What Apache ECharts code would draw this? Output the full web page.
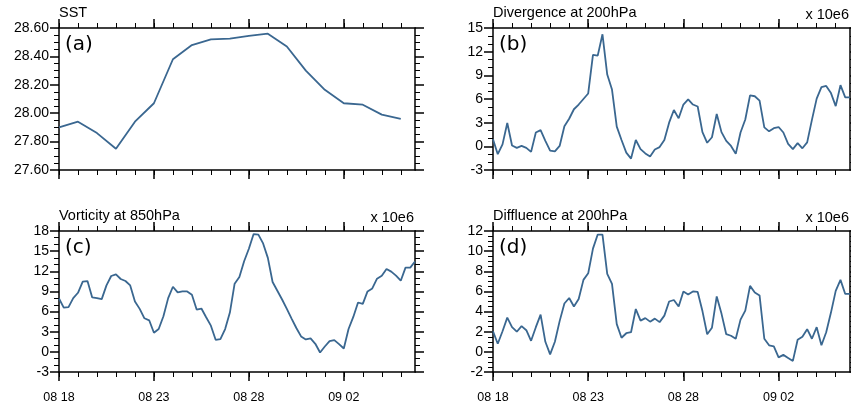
<!DOCTYPE html>
<html>
<head>
<meta charset="utf-8">
<script src="https://cdn.jsdelivr.net/npm/echarts@6/dist/echarts.min.js"></script>
<style>
html,body{margin:0;padding:0;background:#fff;}
#chart{width:851px;height:404px;}
</style>
</head>
<body>
<div id="chart"></div>
<script>
// ---- data ----
// x positions are in days since 08 18 00UTC
const xTickDays = [0, 5, 10, 15];
const xTickLabels = ['08 18', '08 23', '08 28', '09 02'];
const dailyStep = 1;      // SST is daily
const sixHourStep = 0.25; // others are 6-hourly

const panelTitles = ['SST', 'Divergence at 200hPa', 'Vorticity at 850hPa', 'Diffluence at 200hPa'];
const panelTags = ['(a)', '(b)', '(c)', '(d)'];
const scaleNote = 'x 10e6';

const sst = [27.90, 27.94, 27.86, 27.75, 27.94, 28.07, 28.38, 28.48, 28.52, 28.525,
  28.545, 28.56, 28.47, 28.30, 28.165, 28.07, 28.06, 27.99, 27.96];

const divergence = [0.9, -1.0, 0.25, 2.95, 0.1, -0.2, 0.05, -0.2, -0.7, 1.75,
  2.05, 0.7, -0.55, -0.65, 0.05, 2.55, 3.5, 4.7, 5.3, 6.0,
  6.7, 11.6, 11.5, 14.2, 9.1, 7.2, 2.5, 0.8, -0.8, -1.55,
  0.8, -0.35, -0.9, -1.3, -0.4, -0.1, 0.8, 3.0, 4.6, 3.55,
  5.3, 5.95, 5.3, 5.05, 1.8, 0.45, 1.15, 4.1, 1.8, 0.7,
  0.05, -0.95, 1.75, 3.4, 6.45, 6.35, 5.8, 2.4, 1.9, 2.3,
  2.45, 1.75, 0.3, -0.35, 0.4, -0.25, 0.5, 3.35, 6.05, 7.5,
  7.65, 6.75, 5.1, 7.75, 6.2, 6.2];

const vorticity = [7.95, 6.6, 6.65, 8.0, 8.8, 10.45, 10.55, 8.1, 8.0, 7.85,
  9.9, 11.3, 11.55, 10.85, 10.55, 9.9, 7.5, 6.4, 5.0, 4.7,
  2.85, 3.4, 5.3, 8.0, 9.7, 8.85, 9.0, 9.0, 8.5, 6.3,
  6.45, 5.15, 3.9, 1.8, 1.9, 3.4, 5.85, 10.15, 11.15, 13.5,
  15.35, 17.55, 17.45, 16.15, 14.0, 10.4, 9.1, 7.8, 6.4, 4.95,
  3.55, 2.3, 1.85, 2.0, 1.2, -0.1, 0.8, 1.6, 1.75, 1.15,
  0.5, 3.4, 5.2, 7.35, 7.15, 9.0, 9.45, 10.9, 11.35, 12.35,
  11.95, 11.35, 10.6, 12.55, 12.55, 13.45];

const diffluence = [2.05, 0.8, 2.05, 3.4, 2.45, 2.0, 2.55, 2.15, 1.1, 2.45,
  3.7, 1.0, -0.25, 1.0, 3.05, 4.8, 5.35, 4.5, 5.25, 7.15,
  7.8, 10.25, 11.65, 11.65, 7.75, 6.75, 2.75, 1.4, 1.85, 1.95,
  4.25, 3.1, 3.35, 3.0, 3.3, 2.95, 3.6, 5.0, 5.15, 4.5,
  6.0, 5.7, 6.0, 5.95, 4.05, 1.75, 2.4, 5.5, 3.8, 1.75,
  1.6, 1.3, 3.2, 4.1, 6.55, 5.9, 5.6, 1.3, 0.65, 0.55,
  -0.55, -0.3, -0.6, -0.9, 1.2, 1.5, 2.25, 1.3, 2.45, 0.65,
  1.95, 3.9, 6.05, 7.15, 5.75, 5.75];

// y axis ranges per panel
const yMins = [27.6, -3, -3, -2];
const yMaxs = [28.6, 15, 18, 12];
const yIntervals = [0.2, 3, 3, 2];
const yMinorSplits = [4, 3, 3, 4];
const yDecimals = [2, 0, 0, 0];

// ---- layout ----
const xMax = 18.75;
const grids = [
  {left: 59, top: 28, width: 356, height: 142},
  {left: 493, top: 28, width: 357, height: 142},
  {left: 59, top: 231, width: 356, height: 142},
  {left: 493, top: 231, width: 357, height: 142}
];
const seriesList = [
  {data: sst, step: dailyStep},
  {data: divergence, step: sixHourStep},
  {data: vorticity, step: sixHourStep},
  {data: diffluence, step: sixHourStep}
];

const black = '#000';
const lineColor = '#3a6790';
const labelFont = '"Liberation Sans", Arial, sans-serif';
const dayTicks = [];
for (let d = 0; d <= 18; d++) dayTicks.push(d);

const xAxes = [], yAxes = [], series = [], graphics = [];
grids.forEach((g, gi) => {
  const mk = (pos, major, labels) => ({
    type: 'value', gridIndex: gi, position: pos, min: 0, max: xMax,
    axisLine: {show: major, onZero: false, lineStyle: {color: black, width: 1.5}},
    axisTick: {show: true, inside: false, length: major ? 9 : 5,
      customValues: major ? xTickDays : dayTicks,
      lineStyle: {color: black, width: major ? 1.5 : 1}},
    axisLabel: {show: labels, customValues: xTickDays, margin: 19,
      color: black, fontSize: 12.5, fontFamily: labelFont,
      formatter: v => { const k = xTickDays.indexOf(v); return k >= 0 ? xTickLabels[k] : ''; }},
    splitLine: {show: false}
  });
  const showX = gi >= 2;
  xAxes.push(mk('bottom', true, showX));
  xAxes.push(mk('bottom', false, false));
  xAxes.push(mk('top', true, false));
  xAxes.push(mk('top', false, false));

  const mky = (pos, labels) => ({
    type: 'value', gridIndex: gi, position: pos,
    min: yMins[gi], max: yMaxs[gi], interval: yIntervals[gi],
    axisLine: {show: true, onZero: false, lineStyle: {color: black, width: 1.5}},
    axisTick: {show: true, inside: false, length: 9, lineStyle: {color: black, width: 1.5}},
    minorTick: {show: true, splitNumber: yMinorSplits[gi], length: 5, lineStyle: {color: black, width: 1}},
    axisLabel: {show: labels, margin: 10, color: black, fontSize: 14, fontFamily: labelFont,
      formatter: v => v.toFixed(yDecimals[gi])},
    splitLine: {show: false}, minorSplitLine: {show: false}
  });
  yAxes.push(mky('left', true));
  yAxes.push(mky('right', false));

  const s = seriesList[gi];
  series.push({
    type: 'line', xAxisIndex: gi * 4, yAxisIndex: gi * 2,
    data: s.data.map((v, i) => [i * s.step, v]),
    symbol: 'none', silent: true, animation: false,
    lineStyle: {color: lineColor, width: 1.8}
  });

  // panel title
  graphics.push({type: 'text', x: g.left, y: g.top - 15,
    style: {text: panelTitles[gi], font: '14.5px ' + labelFont, fill: black,
      align: 'left', verticalAlign: 'middle', textAlign: 'left', textVerticalAlign: 'middle'}});
  if (gi > 0) {
    graphics.push({type: 'text', x: g.left + g.width - 1, y: g.top - 13,
      style: {text: scaleNote, font: '14.5px ' + labelFont, fill: black,
        align: 'right', verticalAlign: 'middle', textAlign: 'right', textVerticalAlign: 'middle'}});
  }
  graphics.push({type: 'text', x: g.left + 6, y: g.top + 17,
    style: {text: panelTags[gi], font: '20px "DejaVu Sans", sans-serif', fill: black,
      align: 'left', verticalAlign: 'middle', textAlign: 'left', textVerticalAlign: 'middle'}});
});

const chart = echarts.init(document.getElementById('chart'), null, {renderer: 'canvas'});
chart.setOption({
  animation: false,
  backgroundColor: '#fff',
  grid: grids.map(g => Object.assign({containLabel: false}, g)),
  xAxis: xAxes,
  yAxis: yAxes,
  series: series,
  graphic: graphics
});
</script>
</body>
</html>
